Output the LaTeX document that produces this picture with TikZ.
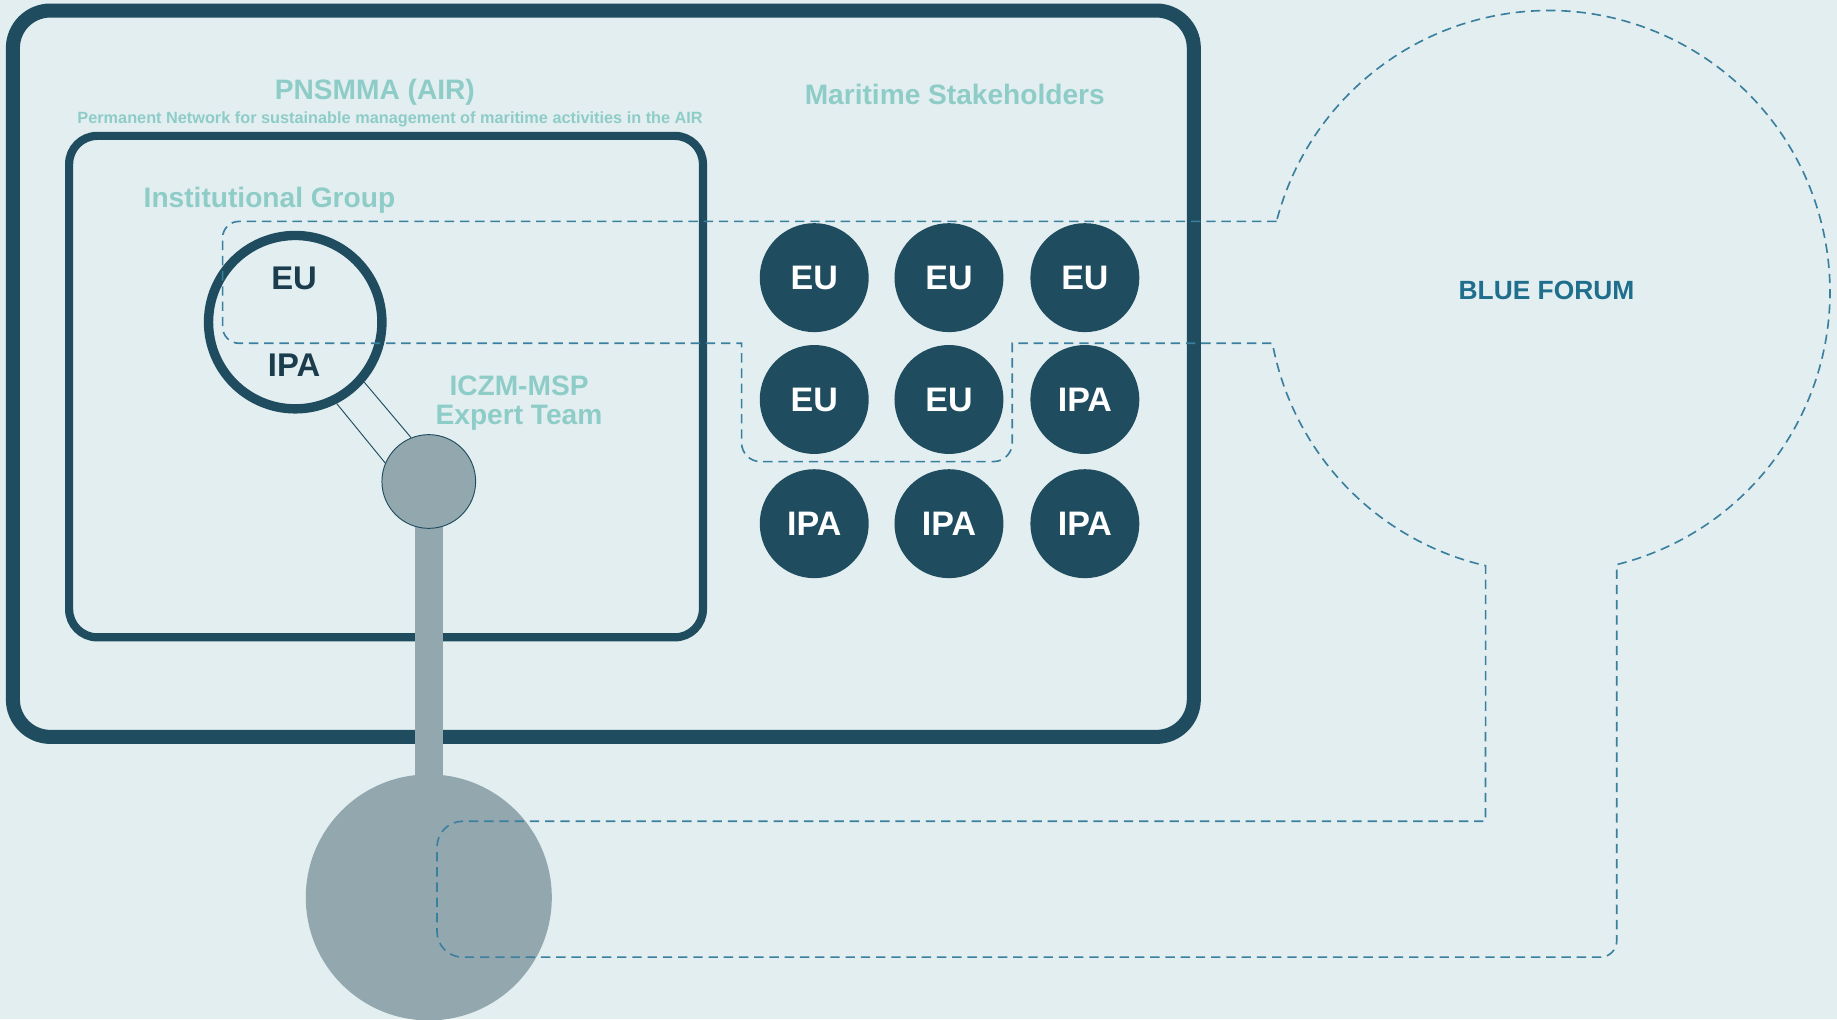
\documentclass[tikz,border=0pt]{standalone}
\usepackage{fontspec}
\setmainfont{Liberation Sans}
\definecolor{bgpale}{HTML}{E3EEF1}
\definecolor{navy}{HTML}{1F4D5F}
\definecolor{inkdark}{HTML}{1A3C4C}
\definecolor{teallt}{HTML}{8ECCC7}
\definecolor{stone}{HTML}{93A8AE}
\definecolor{dashblue}{HTML}{3A7F9E}
\definecolor{forumblue}{HTML}{1E6E8C}
\tikzset{
  member/.style={circle,fill=navy,minimum size=93pt,inner sep=0pt,text=white,
    font=\fontsize{29}{29}\selectfont\bfseries},
  heading/.style={text=teallt,inner sep=0pt,align=center,
    font=\fontsize{24}{25}\selectfont\bfseries},
  boundary/.style={dashblue,line width=1.4pt,dash pattern=on 8pt off 5pt},
}
\begin{document}
\begin{tikzpicture}[x=1pt,y=1pt]
    \fill[bgpale] (0,0) rectangle (1568,870);
    \useasboundingbox (0,0) rectangle (1568,870);
    % frames
    \draw[navy,line width=12pt,rounded corners=32pt] (11,241) rectangle (1019,861);
    \draw[navy,line width=7pt,rounded corners=24pt] (59,326) rectangle (600,754);
    \node[heading,anchor=base] (pnsmma) at (320,785) {PNSMMA (AIR)};
    \node[text=teallt,inner sep=0pt,anchor=base,font=\fontsize{13.9}{14}\selectfont\bfseries]
        (pnsmmafull) at (333,765) {Permanent Network for sustainable management of maritime activities in the AIR};
    \node[heading,anchor=base] (stake) at (815,781) {Maritime Stakeholders};
    \node[heading,anchor=base] (instgrp) at (230,693) {Institutional Group};
    \node[heading] (expert) at (443,526) {ICZM-MSP\\Expert Team};
    % expert team body
    \node[circle,fill=stone,minimum size=210pt,inner sep=0pt] (pool) at (366,104) {};
    \fill[stone] (354,190) rectangle (378,430);
    \node[circle,fill=stone,draw=navy,line width=0.8pt,minimum size=80pt,inner sep=0pt] (team) at (366,459) {};
    % institutional group
    \node[circle,draw=navy,line width=8pt,minimum size=148pt,inner sep=0pt] (inst) at (252,595) {};
    \node[text=inkdark,font=\fontsize{28}{28}\selectfont\bfseries] (insteu) at (251,632) {EU};
    \node[text=inkdark,font=\fontsize{28}{28}\selectfont\bfseries] (instipa) at (251,558) {IPA};
    \draw[navy,line width=0.8pt] (inst.-63) -- (team.157);
    \draw[navy,line width=0.8pt] (inst.-41) -- (team.112);
    % stakeholders
    \foreach \row/\yy/\la/\lb/\lc in {1/633/EU/EU/EU,2/529/EU/EU/IPA,3/423/IPA/IPA/IPA}{
        \node[member] (m\row a) at (695,\yy) {\la};
        \node[member] (m\row b) at (810,\yy) {\lb};
        \node[member] (m\row c) at (926,\yy) {\lc};
    }
    \node[text=forumblue,font=\fontsize{22.5}{23}\selectfont\bfseries,anchor=base] (forum) at (1320,614) {BLUE FORUM};
    % blue forum boundary
    \draw[boundary] (1089.6,681) [rounded corners=14pt] -- (190,681) -- (190,577)
        [sharp corners] -- (633,577) [rounded corners=16pt] -- (633,476) -- (864,476)
        [sharp corners] -- (864,577) -- (1086.1,577)
        arc[start angle=190.56,end angle=257,radius=240] -- (1268,169)
        [rounded corners=22pt] -- (373,169) -- (373,53) [rounded corners=14pt] -- (1380,53)
        [sharp corners] -- (1380,388.1)
        arc[start angle=284,end angle=525.55,radius=240] -- cycle;
\end{tikzpicture}
\end{document}
